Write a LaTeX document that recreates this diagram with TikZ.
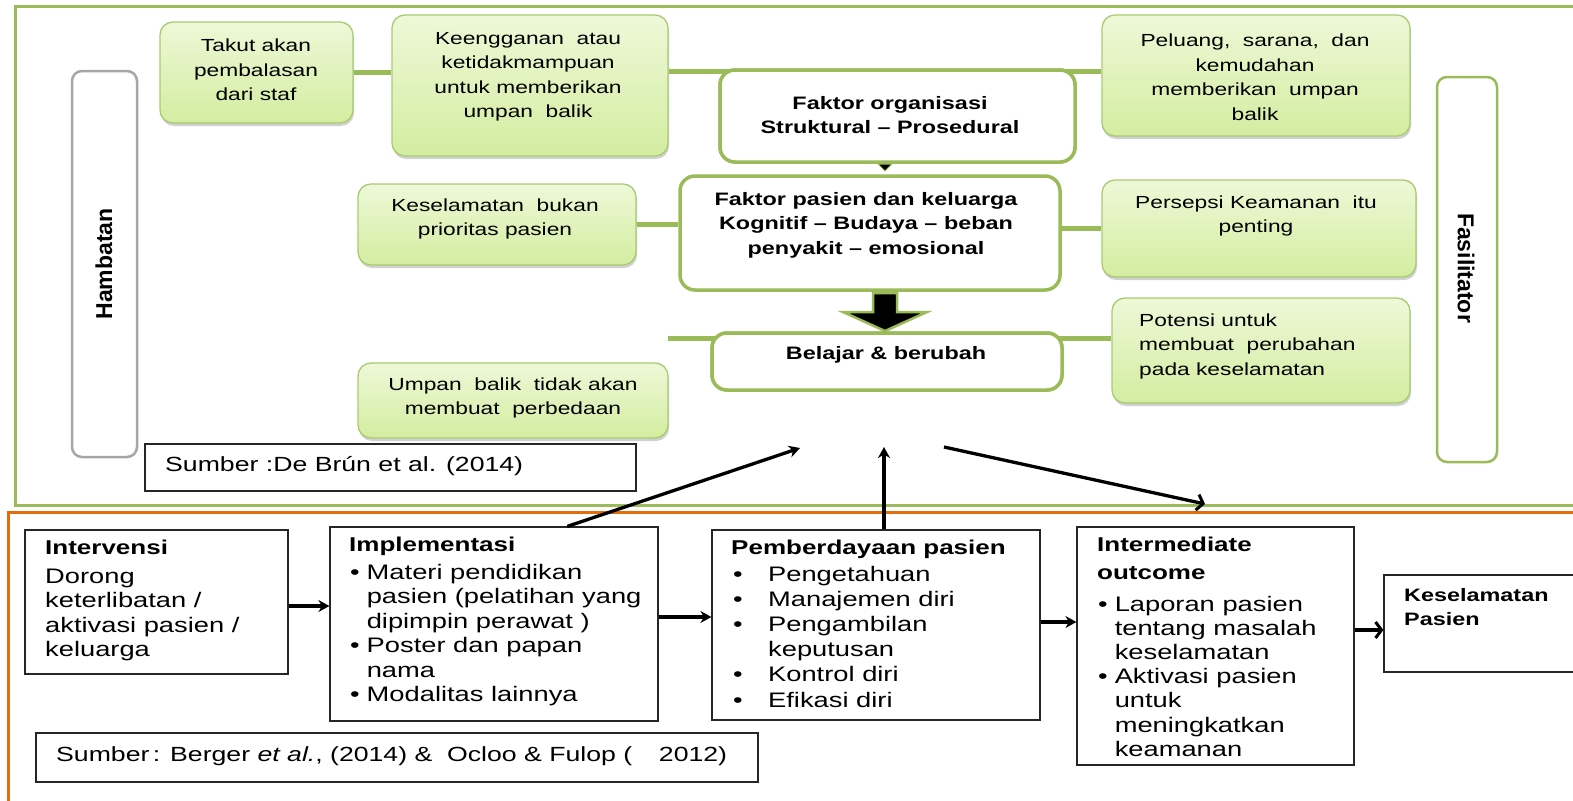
\documentclass[tikz,border=0pt]{standalone}
\usepackage{fontspec}
\setmainfont{Liberation Sans}[FakeStretch=1.3]
\newfontfamily\plainsans{Liberation Sans}
\usetikzlibrary{arrows.meta,calc,shadows}
\definecolor{frgreen}{HTML}{9BBB59}
\definecolor{frorange}{HTML}{E46C0A}
\definecolor{gtop}{HTML}{EEF8D8}
\definecolor{gbot}{HTML}{D3EDA0}
\definecolor{gedge}{HTML}{A8CB72}
\definecolor{barframe}{HTML}{A6A6A6}
\newcommand\bodyfont{\fontsize{21}{24.5}\selectfont}
\newcommand\headfont{\fontsize{20}{28}\selectfont\bfseries}
\begin{document}
\begin{tikzpicture}[x=1pt,y=-1pt,
  gbox/.style={draw=gedge, line width=1.3pt, rounded corners=13pt, top color=gtop, bottom color=gbot,
    drop shadow={shadow xshift=1pt,shadow yshift=-3pt,opacity=.3,fill=black!60}, inner sep=0pt},
  wbox/.style={draw=frgreen, line width=3.5pt, rounded corners=15pt, fill=white, inner sep=0pt},
  bbox/.style={draw=black!85, line width=1.2pt, fill=white, inner sep=0pt},
  sidebar/.style={line width=2.5pt, rounded corners=10pt, fill=white, inner sep=0pt},
  gtext/.style={font=\fontsize{17.5}{24.5}\selectfont, align=center, inner sep=0pt},
  wtext/.style={font=\fontsize{18}{24.5}\selectfont\bfseries, align=center, inner sep=0pt},
  ttext/.style={anchor=base west, inner sep=0pt},
  link/.style={frgreen, line width=5pt},
  flow/.style={line width=3.3pt, -{Stealth[length=11pt,width=12pt]}},
  flowopen/.style={line width=3.3pt, -{Straight Barb[length=6pt,width=16pt,line width=3pt]}},
]
\useasboundingbox (0,0) rectangle (1573,800);

% outer frames
\draw[frgreen, line width=3pt] (15,7) rectangle (1590,505);
\draw[frorange, line width=3pt] (8,512) rectangle (1590,820);

% side bars
\node[sidebar, draw=barframe, minimum width=65, minimum height=386] (hamb) at (104.5,264) {};
\node[rotate=90, inner sep=0pt, font=\plainsans\fontsize{23}{26}\selectfont\bfseries] (hamb-t) at (104,264) {Hambatan};
\node[sidebar, draw=frgreen, minimum width=60, minimum height=385] (fasil) at (1467,269.5) {};
\node[rotate=-90, inner sep=0pt, font=\plainsans\fontsize{23}{26}\selectfont\bfseries] (fasil-t) at (1466,268) {Fasilitator};

% central boxes
\node[wbox, minimum width=355, minimum height=92] (org) at (897.5,116) {};
\node[wbox, minimum width=380, minimum height=114] (pasien) at (870,233) {};
\node[wbox, minimum width=350, minimum height=57] (belajar) at (887,361.5) {};

% green boxes
\node[gbox, minimum width=193, minimum height=101] (takut) at (256.5,72.5) {};
\node[gbox, minimum width=276, minimum height=141] (keeng) at (530,85.5) {};
\node[gbox, minimum width=308, minimum height=121] (peluang) at (1256,75.5) {};
\node[gbox, minimum width=278, minimum height=81] (kesel) at (497,224.5) {};
\node[gbox, minimum width=314, minimum height=97] (persepsi) at (1259,228.5) {};
\node[gbox, minimum width=298, minimum height=105] (potensi) at (1261,350.5) {};
\node[gbox, minimum width=310, minimum height=75] (umpan) at (513,400.5) {};

% green links (they run under the rounded corners of the central boxes)
\draw[link] (takut.east) -- (keeng.west |- takut.east);
\coordinate (orgtl) at ($(org.north west)+(16,3)$);
\coordinate (orgtr) at ($(org.north east)+(-16,3)$);
\draw[link] (keeng.east |- orgtl) -- (orgtl);
\draw[link] (orgtr) -- (peluang.west |- orgtr);
\draw[link] (kesel.east) -- (pasien.west |- kesel.east);
\draw[link] (pasien.east |- persepsi.west) -- (persepsi.west);
\coordinate (bl) at (668,338);
\draw[link] (bl) -- ($(belajar.west |- bl)+(16,0)$);
\draw[link] ($(belajar.east |- bl)+(-16,0)$) -- (potensi.west |- bl);

% redraw the central boxes over the links
\node[wbox, minimum width=355, minimum height=92] (org2) at (org) {};
\node[wbox, minimum width=350, minimum height=57] (belajar2) at (belajar) {};

% texts
\node[gtext] (takut-t) at (256,70) {Takut akan\\pembalasan\\dari staf};
\node[gtext] (keeng-t) at (528,77) {Keengganan\ \ atau\\ketidakmampuan\\untuk memberikan\\umpan\ \ balik};
\node[gtext] (peluang-t) at (1255,77) {Peluang,\ \ sarana,\ \ dan\\kemudahan\\memberikan\ \ umpan\\balik};
\node[gtext] (kesel-t) at (495,219) {Keselamatan\ \ bukan\\prioritas pasien};
\node[gtext] (persepsi-t) at (1256,216) {Persepsi Keamanan\ \ itu\\penting};
\node[gtext, align=left, anchor=west] (potensi-t) at (1139,346) {Potensi untuk\\membuat\ \ perubahan\\pada keselamatan};
\node[gtext] (umpan-t) at (513,398) {Umpan\ \ balik\ \ tidak akan\\membuat\ \ perbedaan};
\node[wtext] (org-t) at (890,115) {Faktor organisasi\\Struktural -- Prosedural};
\node[wtext] (pasien-t) at (866,225) {Faktor pasien dan keluarga\\Kognitif -- Budaya -- beban\\penyakit -- emosional};
\node[wtext] (belajar-t) at (886,355) {Belajar \& berubah};

% arrows between central boxes
\draw[frgreen, fill=black, line width=1pt] (878,164) -- (892,164) -- (885,171) -- cycle;
\draw[fill=black, draw=frgreen, line width=2.5pt, line join=miter]
  (873,293) -- (897,293) -- (897,312) -- (927,312) -- (885,331) -- (843,312) -- (873,312) -- cycle;

% first source
\node[bbox, minimum width=491, minimum height=47] (src1) at (390.5,467.5) {};
\node[ttext, font=\fontsize{20.5}{24.5}\selectfont] (src1-t) at (165,471) {Sumber :De Brún et al. (2014)};

% bottom boxes
\node[bbox, minimum width=263, minimum height=144] (interv) at (156.5,602) {};
\node[bbox, minimum width=328, minimum height=194] (impl) at (494,624) {};
\node[bbox, minimum width=328, minimum height=190] (pemb) at (876,625) {};
\node[bbox, minimum width=277, minimum height=238] (inter) at (1215.5,646) {};
\node[bbox, minimum width=220, minimum height=97] (kp) at (1494,623.5) {};
\node[bbox, minimum width=722, minimum height=49] (src2) at (397,757.5) {};

\node[ttext, font=\headfont] (interv-h) at (45,554) {Intervensi};
\node[ttext, font=\bodyfont] (interv-b) at (45,583)
  {\begin{tabular}[t]{@{}l@{}}Dorong\\keterlibatan /\\aktivasi pasien /\\keluarga\end{tabular}};

\node[ttext, font=\headfont] (impl-h) at (349,551) {Implementasi};
\node[ttext, font=\bodyfont] (impl-b) at (350,579)
  {\begin{tabular}[t]{@{}l@{\hspace{7pt}}l@{}}\textbullet & Materi pendidikan\\ & pasien (pelatihan yang\\ & dipimpin perawat )\\
   \textbullet & Poster dan papan\\ & nama\\ \textbullet & Modalitas lainnya\end{tabular}};

\node[ttext, font=\headfont] (pemb-h) at (731,554) {Pemberdayaan pasien};
\node[ttext, font=\fontsize{21}{25.2}\selectfont] (pemb-b) at (733,581)
  {\begin{tabular}[t]{@{}p{35pt}@{}l@{}}\textbullet & Pengetahuan\\ \textbullet & Manajemen diri\\ \textbullet & Pengambilan\\
   & keputusan\\ \textbullet & Kontrol diri\\ \textbullet & Efikasi diri\end{tabular}};

\node[ttext, font=\headfont] (inter-h) at (1097,551)
  {\begin{tabular}[t]{@{}l@{}}Intermediate\\outcome\end{tabular}};
\node[ttext, font=\fontsize{21}{24.2}\selectfont] (inter-b) at (1098,611)
  {\begin{tabular}[t]{@{}l@{\hspace{7pt}}l@{}}\textbullet & Laporan pasien\\ & tentang masalah\\ & keselamatan\\
   \textbullet & Aktivasi pasien\\ & untuk\\ & meningkatkan\\ & keamanan\end{tabular}};

\node[ttext, font=\fontsize{18}{24}\selectfont\bfseries] (kp-t) at (1404,601)
  {\begin{tabular}[t]{@{}l@{}}Keselamatan\\Pasien\end{tabular}};

\node[ttext, font=\fontsize{20.5}{24.5}\selectfont] (src2-t) at (56,761)
  {Sumber\,: Berger \textit{et al.}, (2014) \&\ \ Ocloo \& Fulop (\hspace{1.3em}2012)};

% flow arrows
\coordinate (r1) at (0,606);
\coordinate (r2) at (0,617);
\coordinate (r3) at (0,622);
\coordinate (r4) at (0,630);
\draw[flow] (interv.east |- r1) -- (impl.west |- r1);
\draw[flow] (impl.east |- r2) -- (pemb.west |- r2);
\draw[flow] (pemb.east |- r3) -- (inter.west |- r3);
\draw[flowopen] (inter.east |- r4) -- (kp.west |- r4);

\coordinate (a1) at (800,448);
\coordinate (a2) at (884,447);
\coordinate (a3s) at (944,447);
\coordinate (a3e) at (1205,504);
\draw[flow] ($(impl.north west)!0.7226!(impl.north east)$) -- (a1);
\draw[flow] (a2 |- pemb.north) -- (a2);
\draw[flowopen] (a3s) -- (a3e);
\end{tikzpicture}
\end{document}
